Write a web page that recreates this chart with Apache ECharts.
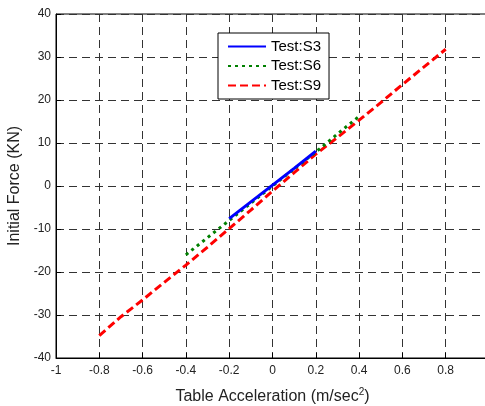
<!DOCTYPE html>
<html>
<head>
<meta charset="utf-8">
<script src="https://cdn.jsdelivr.net/npm/echarts@6/dist/echarts.min.js"></script>
<style>
  html, body { margin: 0; padding: 0; background: #fff; }
  #chart { width: 485px; height: 406px; }
</style>
</head>
<body>
<div id="chart"></div>
<script>
// values
var s3X = [-0.2, -0.1, 0, 0.1, 0.2];
var s3Y = [-7.6, -3.7, 0.2, 4.1, 8.1];

var s6X = [-0.4, -0.3, -0.2, -0.1, 0, 0.1, 0.2, 0.3, 0.4];
var s6Y = [-16.0, -12.0, -8.0, -4.0, 0.0, 4.0, 7.9, 12.1, 16.2];

var s9X = [-0.8, -0.7, -0.6, -0.5, -0.4, -0.3, -0.2, -0.1, 0, 0.1, 0.2, 0.3, 0.4, 0.5, 0.6, 0.7, 0.8];
var s9Y = [-34.8, -30.4, -26.5, -22.4, -18.4, -14.2, -9.9, -5.6, -1.2, 3.1, 7.4, 11.3, 15.3, 19.4, 23.6, 27.7, 31.8];

var seriesNames = ['Test:S3', 'Test:S6', 'Test:S9'];

function pairs(xs, ys) {
  return xs.map(function (x, i) { return [x, ys[i]]; });
}

var chart = echarts.init(document.getElementById('chart'));

var gridLine = { show: true, lineStyle: { color: '#333', type: [8, 5], width: 1 } };
var fontBase = 'Liberation Sans, Arial, sans-serif';

chart.setOption({
  animation: false,
  backgroundColor: '#fff',
  grid: {
    left: 56, top: 14, width: 433, height: 344,
    outerBoundsMode: 'none', containLabel: false,
    show: true, borderColor: '#000', borderWidth: 1, backgroundColor: 'transparent'
  },
  legend: {
    left: 218, top: 33,
    orient: 'vertical',
    backgroundColor: '#fff',
    borderColor: '#000', borderWidth: 1, borderRadius: 0,
    padding: [6, 8, 6, 9],
    itemGap: 4.5,
    itemWidth: 38, itemHeight: 16,
    itemStyle: { opacity: 0 },
    textStyle: { fontFamily: fontBase, fontSize: 15, color: '#000' },
    data: seriesNames
  },
  xAxis: {
    type: 'value', min: -1, max: 1, interval: 0.2,
    axisLine: { show: true, onZero: false, lineStyle: { color: '#000', width: 1 } },
    axisTick: { show: true, inside: true, length: 5, lineStyle: { color: '#000' } },
    splitLine: gridLine,
    axisLabel: {
      fontFamily: fontBase, fontSize: 12, color: '#222', margin: 7,
      formatter: function (v) { return String(Math.round(v * 10) / 10); }
    },
    name: 'Table Acceleration (m/sec{sup|2})',
    nameLocation: 'middle', nameGap: 29,
    nameTextStyle: {
      fontFamily: fontBase, fontSize: 16, color: '#222',
      rich: { sup: { fontFamily: fontBase, fontSize: 10, color: '#222', verticalAlign: 'top', padding: [0, 0, 10, 0] } }
    }
  },
  yAxis: {
    type: 'value', min: -40, max: 40, interval: 10,
    axisLine: { show: true, onZero: false, lineStyle: { color: '#000', width: 1 } },
    axisTick: { show: true, inside: true, length: 5, lineStyle: { color: '#000' } },
    splitLine: gridLine,
    axisLabel: { fontFamily: fontBase, fontSize: 12, color: '#222', margin: 5 },
    name: 'Initial Force (KN)',
    nameLocation: 'middle', nameGap: 27,
    nameTextStyle: { fontFamily: fontBase, fontSize: 16, color: '#222' }
  },
  series: [
    {
      name: seriesNames[0], type: 'line', data: pairs(s3X, s3Y),
      symbol: 'none', z: 4,
      lineStyle: { color: '#0000ff', width: 3, type: 'solid' },
      itemStyle: { color: '#0000ff' }
    },
    {
      name: seriesNames[1], type: 'line', data: pairs(s6X, s6Y),
      symbol: 'none', z: 3,
      lineStyle: { color: '#008000', width: 3, type: [3, 4] },
      itemStyle: { color: '#008000' }
    },
    {
      name: seriesNames[2], type: 'line', data: pairs(s9X, s9Y),
      symbol: 'none', z: 2,
      lineStyle: { color: '#ff0000', width: 3, type: [8, 4] },
      itemStyle: { color: '#ff0000' }
    }
  ]
});
</script>
</body>
</html>
